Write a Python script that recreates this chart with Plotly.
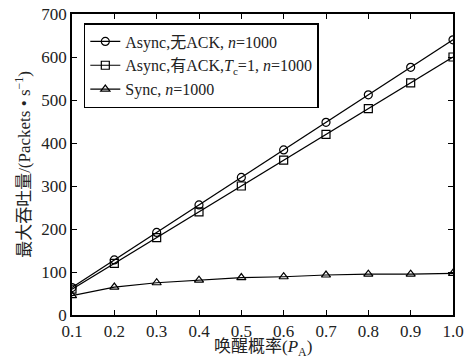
import plotly.graph_objects as go

pa = [0.1, 0.2, 0.3, 0.4, 0.5, 0.6, 0.7, 0.8, 0.9, 1.0]
async_noack = [64, 128, 192, 256, 320, 384, 448, 512, 576, 640]
async_ack = [60, 120, 180, 240, 300, 360, 420, 480, 540, 600]
sync_vals = [45, 65, 75, 81, 87, 89, 93, 95, 95, 97]
names = ["Async,无ACK, <i>n</i>=1000",
         "Async,有ACK,<i>T</i><sub>c</sub>=1, <i>n</i>=1000",
         "Sync, <i>n</i>=1000"]
symbols = ["circle-open", "square-open", "triangle-up-open"]
x_ticks = [0.1, 0.2, 0.3, 0.4, 0.5, 0.6, 0.7, 0.8, 0.9, 1.0]
y_ticks = [0, 100, 200, 300, 400, 500, 600, 700]
x_title = "唤醒概率(<i>P</i><sub>A</sub>)"
y_title = "最大吞吐量/(Packets • s<sup>−1</sup>)"

FONT = "Liberation Serif, Noto Sans CJK SC"

fig = go.Figure()
for ys, nm, sym in zip([async_noack, async_ack, sync_vals], names, symbols):
    fig.add_trace(go.Scatter(
        x=pa, y=ys, name=nm, mode="lines+markers",
        line=dict(color="black", width=1.2),
        marker=dict(symbol=sym, size=8, color="black", line=dict(width=1.2, color="black")),
    ))

axis_common = dict(
    showline=True, linecolor="black", linewidth=1.5, mirror="ticks",
    ticks="inside", ticklen=5, tickcolor="black", showgrid=False, zeroline=False,
    tickfont=dict(family=FONT, size=17, color="#222"), automargin=False,
)
fig.update_layout(
    width=468, height=358,
    margin=dict(l=72, r=15, t=14, b=43),
    paper_bgcolor="white", plot_bgcolor="white",
    font=dict(family=FONT, color="#222"),
    xaxis=dict(range=[0.1, 1.0], tickvals=x_ticks, ticktext=[f"{v:.1f}" for v in x_ticks],
               **axis_common),
    yaxis=dict(range=[0, 700], tickvals=y_ticks,
               title=dict(text=y_title, font=dict(family=FONT, size=17), standoff=6),
               **axis_common),
    legend=dict(x=0.031, y=0.97, xanchor="left", yanchor="top",
                bordercolor="black", borderwidth=1.5, bgcolor="white",
                font=dict(family=FONT, size=16, color="#222"),
                tracegroupgap=0, itemwidth=30),
    showlegend=True,
    annotations=[dict(text=x_title, xref="paper", yref="paper", x=0.5, y=0,
                      xanchor="center", yanchor="top", yshift=-20, showarrow=False,
                      font=dict(family=FONT, size=17, color="#222"))],
)
fig.write_html("out.html")
